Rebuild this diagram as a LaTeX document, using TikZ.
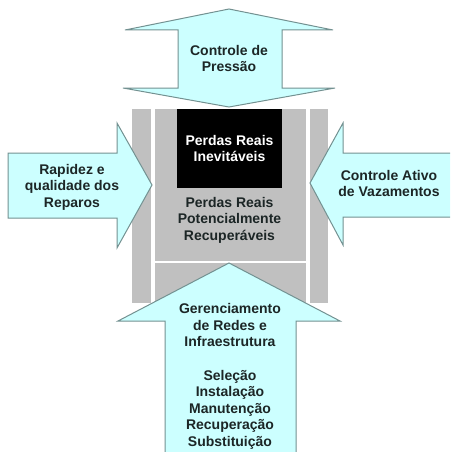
\documentclass[tikz,border=0pt]{standalone}
\usepackage{fontspec}
\setmainfont{Liberation Sans}
\usepackage{tikz}
\definecolor{aqua}{RGB}{204,255,255}
\definecolor{rim}{RGB}{115,145,145}
\definecolor{slab}{RGB}{192,192,192}
\definecolor{ink}{RGB}{28,38,38}
\tikzstyle{bigarrow} = [draw=rim, fill=aqua, line width=1pt, line join=miter]
\tikzstyle{column} = [fill=slab]
\tikzstyle{tag} = [align=center, inner sep=0pt, text=ink, font=\bfseries\fontsize{14}{16.6}\selectfont]
\tikzstyle{core} = [tag, fill=black, text=white, minimum width=105pt, minimum height=79pt]
\begin{document}
\begin{tikzpicture}[x=1pt, y=-1pt]
					\useasboundingbox (0,0) rectangle (450,452);
					\clip (0,0) rectangle (450,452);
					\fill[column] (132,109) rectangle (151,303);
					\fill[column] (155,109) rectangle (306,261);
					\fill[column] (155,263) rectangle (306,303);
					\fill[column] (310,109) rectangle (328,303);
					\node [core] (unavoidable) at (229.5,148.5) {Perdas Reais\\Inevitáveis};
					\node [tag] (recoverable) at (229.5,220) {Perdas Reais\\Potencialmente\\Recuperáveis};
					\path [bigarrow] (229,9) -- (125,30) -- (178,30) -- (178,88) -- (123,88) -- (229,107)
						-- (335,88) -- (282,88) -- (282,30) -- (333,30) -- cycle;
					\path [bigarrow] (8,153) -- (117,153) -- (117,123) -- (152,185) -- (117,248)
						-- (117,218) -- (8,218) -- cycle;
					\path [bigarrow] (460,153) -- (343,153) -- (343,123) -- (310,183) -- (343,245)
						-- (343,217) -- (460,217) -- cycle;
					\path [bigarrow] (165,470) -- (165,321) -- (118,321) -- (229,263) -- (340,321)
						-- (296,321) -- (296,470) -- cycle;
					\node [tag] (pressure) at (229,58.5) {Controle de\\Pressão};
					\node [tag] (repairs) at (72,187) {Rapidez e\\qualidade dos\\Reparos};
					\node [tag] (leakage) at (389,183.5) {Controle Ativo\\de Vazamentos};
					\node [tag] (network) at (230,376.5) {Gerenciamento\\de Redes e\\Infraestrutura\\[16.6pt]Seleção\\Instalação\\Manutenção\\Recuperação\\Substituição};
				\end{tikzpicture}
\end{document}
